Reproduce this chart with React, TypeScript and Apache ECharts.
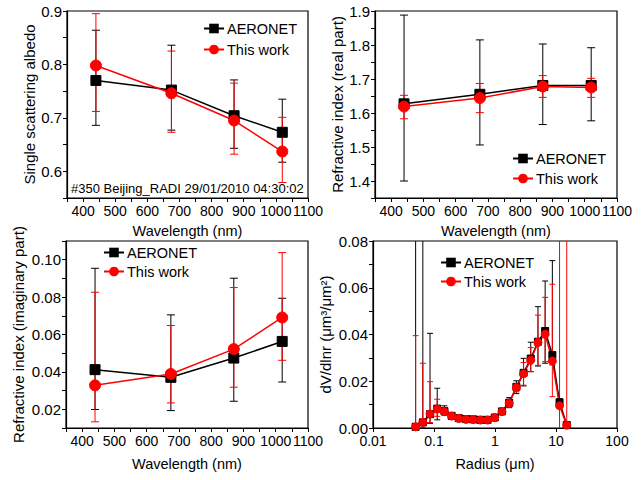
import React, { useEffect, useRef } from "react";
import * as echarts from "echarts";

// ---------- data ----------
const wavelengths = [440, 675, 870, 1020];

const ssaAeronet = [0.770, 0.752, 0.704, 0.673];
const ssaAeronetLo = [0.686, 0.677, 0.643, 0.617];
const ssaAeronetHi = [0.864, 0.836, 0.771, 0.735];
const ssaThis = [0.798, 0.746, 0.695, 0.637];
const ssaThisLo = [0.712, 0.673, 0.632, 0.579];
const ssaThisHi = [0.895, 0.825, 0.765, 0.701];

const rriAeronet = [1.627, 1.655, 1.681, 1.681];
const rriAeronetLo = [1.400, 1.506, 1.566, 1.577];
const rriAeronetHi = [1.888, 1.815, 1.803, 1.792];
const rriThis = [1.619, 1.644, 1.678, 1.675];
const rriThisLo = [1.583, 1.601, 1.646, 1.646];
const rriThisHi = [1.652, 1.687, 1.710, 1.702];

const iriAeronet = [0.0412, 0.0371, 0.0474, 0.0563];
const iriAeronetLo = [0.0199, 0.0193, 0.0243, 0.0346];
const iriAeronetHi = [0.0954, 0.0705, 0.0901, 0.0794];
const iriThis = [0.0328, 0.0389, 0.0522, 0.0691];
const iriThisLo = [0.0133, 0.0234, 0.0318, 0.0462];
const iriThisHi = [0.0826, 0.0648, 0.0851, 0.1038];

const radius = [0.05, 0.065604, 0.086077, 0.112939, 0.148184, 0.194429, 0.255105, 0.334716, 0.439173, 0.576227, 0.756052, 0.991993, 1.301566, 1.707749, 2.240691, 2.939944, 3.857412, 5.061196, 6.640631, 8.713008, 11.432287, 15.0];
const psdAeronet = [0.0005, 0.0024, 0.0059, 0.0083, 0.0072, 0.0052, 0.0042, 0.0038, 0.0037, 0.0035, 0.0035, 0.0045, 0.0071, 0.0108, 0.0176, 0.0236, 0.0297, 0.0369, 0.0415, 0.0312, 0.0110, 0.0013];
const psdAeronetLo = [0, 0, 0.0020, 0.0035, 0.0055, 0.0043, 0.0035, 0.0031, 0.0030, 0.0029, 0.0029, 0.0038, 0.0060, 0.0087, 0.0147, 0.0180, 0.0241, 0.0265, 0.0277, 0.0270, 0.0095, 0.0008];
const psdAeronetHi = [0.2, 0.2, 0.0405, 0.0170, 0.0095, 0.0062, 0.0050, 0.0045, 0.0043, 0.0041, 0.0041, 0.0052, 0.0082, 0.0130, 0.0202, 0.0298, 0.0367, 0.0519, 0.0629, 0.0716, 0.0125, 0.0018];
const psdThis = [0.0005, 0.0024, 0.0060, 0.0081, 0.0070, 0.0051, 0.0041, 0.0037, 0.0036, 0.0034, 0.0034, 0.0044, 0.0070, 0.0106, 0.0173, 0.0232, 0.0290, 0.0366, 0.0401, 0.0287, 0.0095, 0.0012];
const psdThisLo = [0, 0, 0.0023, 0.0050, 0.0060, 0.0045, 0.0035, 0.0031, 0.0030, 0.0028, 0.0028, 0.0037, 0.0060, 0.0090, 0.0155, 0.0183, 0.0241, 0.0268, 0.0284, 0.0134, -0.05, -0.05];
const psdThisHi = [0.0395, 0.0277, 0.0198, 0.0123, 0.0085, 0.0060, 0.0048, 0.0043, 0.0042, 0.0040, 0.0040, 0.0051, 0.0080, 0.0122, 0.0190, 0.0280, 0.0344, 0.0483, 0.0559, 0.0615, 0.2, 0.2];

const legendNames = ["AERONET", "This work"];
const stampText = "#350 Beijing_RADI 29/01/2010 04:30:02";

// ---------- helpers ----------
const FONT = "'Liberation Sans', Arial, Helvetica, sans-serif";
const BLACK = "#000000";
const RED = "#ff0000";

function errSeries(name: string, idx: number, xs: number[], lo: number[], hi: number[], color: string, cap: number) {
  return {
    type: "custom",
    name,
    xAxisIndex: idx,
    yAxisIndex: idx,
    clip: true,
    silent: true,
    data: xs.map((x, i) => [x, lo[i], hi[i]]),
    encode: { x: 0, y: [1, 2] },
    renderItem: (params: any, api: any) => {
      const x = api.value(0);
      const a = api.coord([x, api.value(1)]);
      const b = api.coord([x, api.value(2)]);
      const st = { stroke: color, lineWidth: 1 };
      return {
        type: "group",
        children: [
          { type: "line", shape: { x1: a[0], y1: a[1], x2: b[0], y2: b[1] }, style: st },
          { type: "line", shape: { x1: a[0] - cap, y1: a[1], x2: a[0] + cap, y2: a[1] }, style: st },
          { type: "line", shape: { x1: b[0] - cap, y1: b[1], x2: b[0] + cap, y2: b[1] }, style: st },
        ],
      };
    },
  };
}

function lineSeries(name: string, idx: number, xs: number[], ys: number[], color: string, symbol: string, size: number) {
  return {
    type: "line",
    name,
    xAxisIndex: idx,
    yAxisIndex: idx,
    data: xs.map((x, i) => [x, ys[i]]),
    symbol,
    symbolSize: size,
    showAllSymbol: true,
    lineStyle: { color, width: 1.5 },
    itemStyle: { color, borderColor: color },
    emphasis: { disabled: true },
  };
}

const axisCommon = {
  axisLine: { show: true, lineStyle: { color: BLACK, width: 1.2 } },
  axisTick: { show: true, length: 4, lineStyle: { color: BLACK } },
  splitLine: { show: false },
};

function wlAxis(gridIndex: number, nameGap: number) {
  return {
    ...axisCommon,
    gridIndex,
    type: "value",
    min: 350,
    max: 1100,
    interval: 50,
    axisLabel: {
      color: BLACK,
      fontSize: 14,
      fontFamily: FONT,
      margin: 6,
      formatter: (v: number) => (Math.round(v) % 100 === 0 ? String(Math.round(v)) : ""),
    },
    name: "Wavelength (nm)",
    nameLocation: "middle",
    nameGap,
    nameTextStyle: { color: BLACK, fontSize: 14.5, fontFamily: FONT },
  };
}

function yAxisDef(gridIndex: number, min: number, max: number, interval: number, every: number, digits: number, name: string, nameGap: number) {
  return {
    ...axisCommon,
    gridIndex,
    type: "value",
    min,
    max,
    interval,
    axisLabel: {
      color: BLACK,
      fontSize: 15,
      fontFamily: FONT,
      margin: 5,
      formatter: (v: number) => {
        const r = Math.round(v * 100);
        return r % every === 0 ? (r / 100).toFixed(digits) : "";
      },
    },
    name,
    nameLocation: "middle",
    nameGap,
    nameTextStyle: { color: BLACK, fontSize: 15, fontFamily: FONT },
  };
}

function legendDef(left: number, top: number, gap: number) {
  return {
    left,
    top,
    orient: "vertical",
    itemWidth: 20,
    itemHeight: 12,
    itemGap: gap,
    padding: 0,
    selectedMode: false,
    textStyle: { color: BLACK, fontSize: 14.5, fontFamily: FONT, padding: [0, 0, 0, -2] },
    data: legendNames,
  };
}

export default function App() {
  const ref = useRef<HTMLDivElement>(null);
  useEffect(() => {
    if (!ref.current) return;
    const chart = echarts.init(ref.current, undefined, { renderer: "svg" });
    const gridStyle = { show: true, borderColor: BLACK, borderWidth: 1.2, backgroundColor: "transparent" };
    const option: any = {
      animation: false,
      backgroundColor: "#ffffff",
      textStyle: { fontFamily: FONT },
      grid: [
        { ...gridStyle, left: 67, top: 11, width: 241, height: 187 },
        { ...gridStyle, left: 375, top: 11, width: 242, height: 187 },
        { ...gridStyle, left: 66, top: 241, width: 242, height: 187 },
        { ...gridStyle, left: 373, top: 241, width: 244, height: 187 },
      ],
      xAxis: [
        wlAxis(0, 25),
        wlAxis(1, 25),
        wlAxis(2, 28),
        {
          ...axisCommon,
          gridIndex: 3,
          type: "log",
          logBase: 10,
          min: 0.01,
          max: 100,
          axisLabel: {
            color: BLACK,
            fontSize: 14,
            fontFamily: FONT,
            margin: 6,
            formatter: (v: number) => String(+v.toPrecision(3)),
          },
          name: "Radius (μm)",
          nameLocation: "middle",
          nameGap: 28,
          nameTextStyle: { color: BLACK, fontSize: 14.5, fontFamily: FONT },
        },
      ],
      yAxis: [
        yAxisDef(0, 0.55, 0.9, 0.05, 10, 1, "Single scattering albedo", 30),
        yAxisDef(1, 1.35, 1.9, 0.05, 10, 1, "Refractive index (real part)", 30),
        yAxisDef(2, 0.01, 0.11, 0.01, 2, 2, "Refractive index (imaginary part)", 40),
        yAxisDef(3, 0, 0.08, 0.01, 2, 2, "dV/dlnr (μm³/μm²)", 40),
      ],
      legend: [
        legendDef(203, 21, 6),
        legendDef(512, 151, 5),
        legendDef(103, 245, 4),
        legendDef(440, 255, 4),
      ],
      graphic: [
        {
          type: "text",
          left: 71,
          top: 182,
          style: { text: stampText, fill: BLACK, font: `13px ${FONT}` },
        },
      ],
      series: [
        errSeries("AERONET-err0", 0, wavelengths, ssaAeronetLo, ssaAeronetHi, BLACK, 4),
        lineSeries("AERONET", 0, wavelengths, ssaAeronet, BLACK, "rect", 10),
        errSeries("This-err0", 0, wavelengths, ssaThisLo, ssaThisHi, RED, 4),
        lineSeries("This work", 0, wavelengths, ssaThis, RED, "circle", 11),

        errSeries("AERONET-err1", 1, wavelengths, rriAeronetLo, rriAeronetHi, BLACK, 4),
        lineSeries("AERONET", 1, wavelengths, rriAeronet, BLACK, "rect", 10),
        errSeries("This-err1", 1, wavelengths, rriThisLo, rriThisHi, RED, 4),
        lineSeries("This work", 1, wavelengths, rriThis, RED, "circle", 11),

        errSeries("AERONET-err2", 2, wavelengths, iriAeronetLo, iriAeronetHi, BLACK, 4),
        lineSeries("AERONET", 2, wavelengths, iriAeronet, BLACK, "rect", 10),
        errSeries("This-err2", 2, wavelengths, iriThisLo, iriThisHi, RED, 4),
        lineSeries("This work", 2, wavelengths, iriThis, RED, "circle", 11),

        errSeries("AERONET-err3", 3, radius, psdAeronetLo, psdAeronetHi, BLACK, 3),
        lineSeries("AERONET", 3, radius, psdAeronet, BLACK, "rect", 7),
        errSeries("This-err3", 3, radius, psdThisLo, psdThisHi, RED, 3),
        lineSeries("This work", 3, radius, psdThis, RED, "circle", 8),
      ],
    };
    chart.setOption(option);
    return () => chart.dispose();
  }, []);
  return (
    <div
      ref={ref}
      style={{ position: "absolute", left: 0, top: 0, width: 644, height: 480, background: "#fff" }}
    />
  );
}
